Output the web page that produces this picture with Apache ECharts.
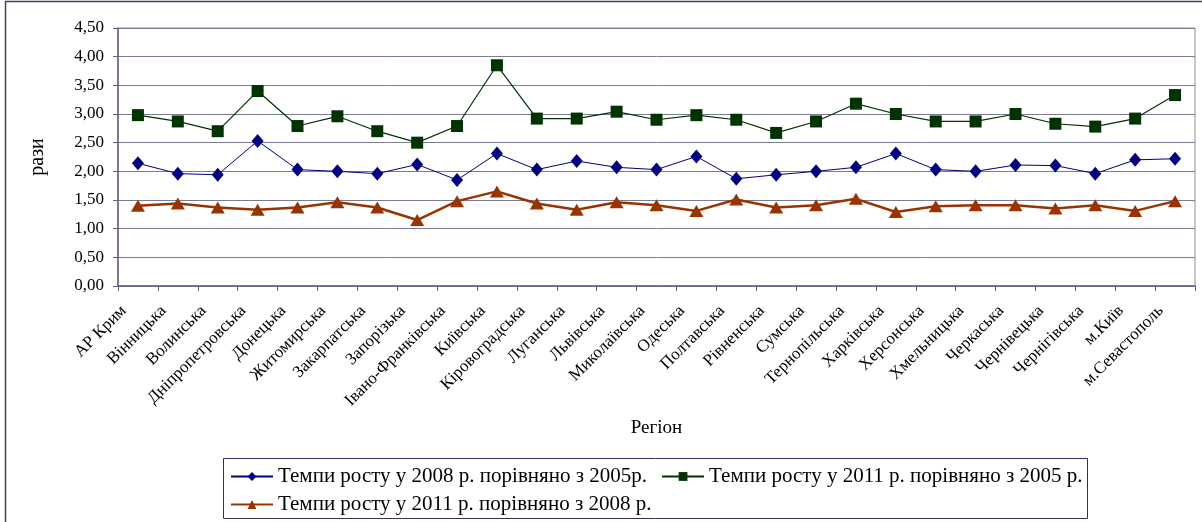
<!DOCTYPE html>
<html>
<head>
<meta charset="utf-8">
<script src="https://cdn.jsdelivr.net/npm/echarts@6/dist/echarts.min.js"></script>
<style>
html,body{margin:0;padding:0;background:#fff;}
#c{width:1202px;height:522px;}
</style>
</head>
<body>
<div id="c"></div>
<script>
const categories = ['АР Крим','Вінницька','Волинська','Дніпропетровська','Донецька','Житомирська','Закарпатська','Запорізька','Івано-Франківська','Київська','Кіровоградська','Луганська','Львівська','Миколаївська','Одеська','Полтавська','Рівненська','Сумська','Тернопільська','Харківська','Херсонська','Хмельницька','Черкаська','Чернівецька','Чернігівська','м.Київ','м.Севастополь'];
const growth2008vs2005 = [2.14,1.96,1.94,2.53,2.03,2.00,1.96,2.12,1.85,2.31,2.03,2.18,2.07,2.03,2.26,1.87,1.94,2.00,2.07,2.31,2.03,2.00,2.11,2.10,1.96,2.20,2.22];
const growth2011vs2005 = [2.98,2.87,2.70,3.40,2.79,2.96,2.70,2.50,2.79,3.85,2.92,2.92,3.04,2.90,2.98,2.90,2.67,2.87,3.18,3.00,2.87,2.87,3.00,2.83,2.78,2.92,3.33];
const growth2011vs2008 = [1.40,1.44,1.37,1.33,1.37,1.46,1.37,1.15,1.48,1.65,1.44,1.33,1.46,1.41,1.31,1.51,1.37,1.41,1.52,1.29,1.39,1.41,1.41,1.35,1.41,1.31,1.48];
const seriesNames = ['Темпи росту у 2008 р. порівняно з 2005р.','Темпи росту у 2011 р. порівняно з 2005 р.','Темпи росту у 2011 р. порівняно з 2008 р.'];

const font = 'Liberation Serif';
const legendText = {fontFamily:font, fontSize:21, color:'#000'};
const chart = echarts.init(document.getElementById('c'), null, {renderer:'canvas'});
chart.setOption({
  animation:false,
  backgroundColor:'#fff',
  textStyle:{fontFamily:font, color:'#000'},
  graphic:[
    {type:'rect', shape:{x:5.5,y:1.5,width:1220,height:540}, style:{fill:'none', stroke:'#404060', lineWidth:1.5}, silent:true},
    {type:'rect', shape:{x:223.5,y:458.5,width:864,height:60}, style:{fill:'none', stroke:'#303060', lineWidth:1}, silent:true}
  ],
  grid:{left:118, right:7, top:28, bottom:236, show:true, borderColor:'#909090', borderWidth:1, backgroundColor:'transparent'},
  legend:[
    {left:230, top:466, padding:0, itemGap:14, itemWidth:42, itemHeight:11, textStyle:legendText, data:[seriesNames[0], seriesNames[1]]},
    {left:230, top:494, padding:0, itemGap:14, itemWidth:42, itemHeight:11, textStyle:legendText, data:[seriesNames[2]]}
  ],
  xAxis:{
    type:'category', data:categories, boundaryGap:true,
    name:'Регіон', nameLocation:'middle', nameGap:133,
    nameTextStyle:{fontFamily:font, fontSize:19, color:'#000'},
    axisLine:{lineStyle:{color:'#606080', width:1.5}},
    axisTick:{show:true, length:5, lineStyle:{color:'#606080'}, alignWithLabel:false},
    axisLabel:{interval:0, rotate:45, fontFamily:font, fontSize:17, color:'#000', margin:8, padding:[0,20,0,0]}
  },
  yAxis:{
    type:'value', min:0, max:4.5, interval:0.5,
    name:'рази', nameLocation:'middle', nameGap:70, nameRotate:90,
    nameTextStyle:{fontFamily:font, fontSize:20, color:'#000'},
    axisLine:{show:true, lineStyle:{color:'#606080', width:1.5}},
    axisTick:{show:true, length:5, lineStyle:{color:'#606080'}},
    axisLabel:{fontFamily:font, fontSize:17, color:'#000', margin:14, formatter:v=>v.toFixed(2).replace('.',',')},
    splitLine:{show:true, lineStyle:{color:'#7c7c90', width:1}}
  },
  series:[
    {name:seriesNames[0], type:'line', data:growth2008vs2005, symbol:'diamond', symbolSize:[12,14], lineStyle:{color:'#000080', width:1}, itemStyle:{color:'#000080'}},
    {name:seriesNames[1], type:'line', data:growth2011vs2005, symbol:'rect', symbolSize:12, lineStyle:{color:'#003300', width:1.2}, itemStyle:{color:'#003300'}},
    {name:seriesNames[2], type:'line', data:growth2011vs2008, symbol:'triangle', symbolSize:[14,12], lineStyle:{color:'#993300', width:2.5}, itemStyle:{color:'#993300'}}
  ]
});
</script>
</body>
</html>
